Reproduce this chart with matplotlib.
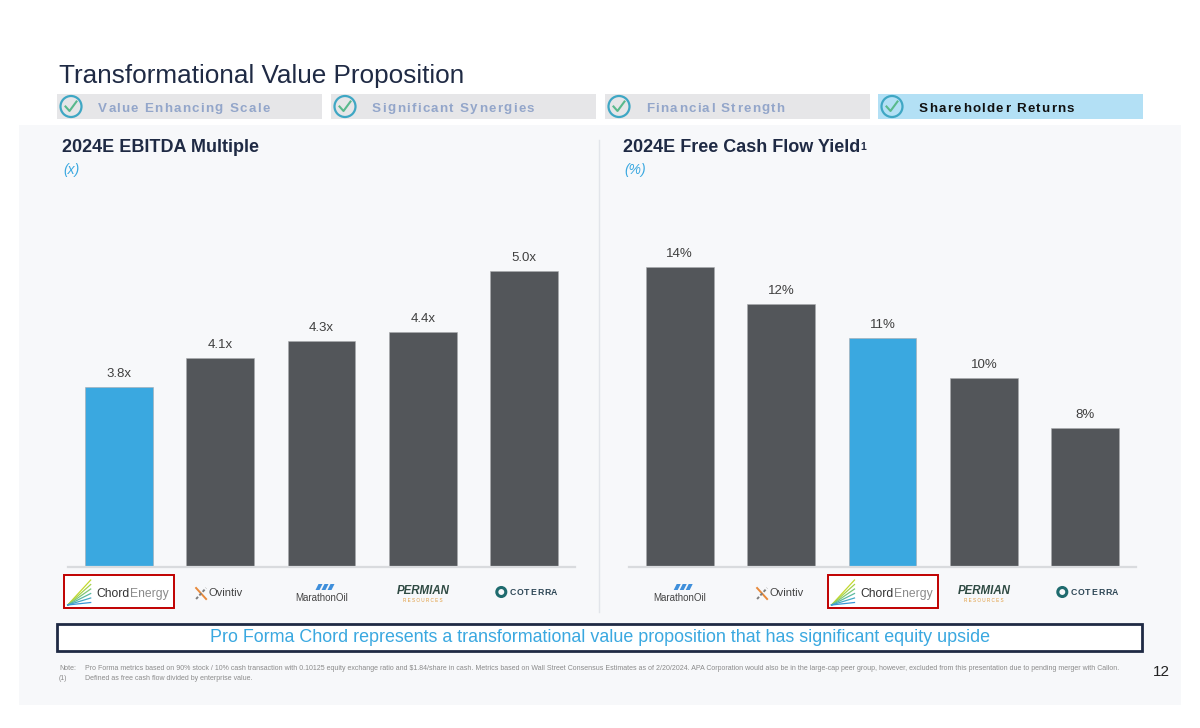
"""
Transformational value proposition slide: EBITDA multiple and FCF yield peers
"""
import matplotlib
matplotlib.use('Agg')
import matplotlib.pyplot as plt
from matplotlib.patches import Rectangle, Circle, Polygon
from matplotlib.lines import Line2D
from matplotlib.font_manager import FontProperties

plt.rcParams['font.family'] = ['Liberation Sans', 'DejaVu Sans']

# Data
ebitda_companies = ["Chord Energy", "Ovintiv", "Marathon Oil", "Permian Resources", "Coterra"]
ebitda_multiple = [3.80, 4.10, 4.27, 4.36, 4.98]
fcf_companies = ["Marathon Oil", "Ovintiv", "Chord Energy", "Permian Resources", "Coterra"]
fcf_yield = [13.6, 12.4, 11.3, 10.0, 8.4]
highlight = "Chord Energy"

tabs = ["Value Enhancing Scale", "Significant Synergies", "Financial Strength", "Shareholder Returns"]
active_tab = "Shareholder Returns"

NAVY = '#1F2A44'
BLUE = '#3AA8E0'
GREY_BAR = '#53565A'
PANEL = '#F7F8FA'

W, H = 1200, 728
fig = plt.figure(figsize=(W / 100, H / 100), dpi=100)
fig.patch.set_facecolor('white')
renderer = fig.canvas.get_renderer()

# Pixel-space canvas for the slide decorations
bg = fig.add_axes([0, 0, 1, 1], zorder=0)
bg.set_xlim(0, W)
bg.set_ylim(H, 0)
bg.axis('off')

bg.add_patch(Rectangle((19, 125), W - 38, 580, facecolor=PANEL, edgecolor='none', zorder=0.2))


def spaced_text(x, y, s, spacing, size, weight='normal', color='k'):
    # matplotlib has no letter-spacing, so lay the characters out one by one
    # y is the baseline
    fp = FontProperties(family=['Liberation Sans', 'DejaVu Sans'], size=size, weight=weight)
    w_i = renderer.get_text_width_height_descent('I', fp, ismath=False)[0]
    for i, ch in enumerate(s):
        if ch == ' ':
            continue
        # advance width of the prefix, measured with a guard char so spaces count
        w_pre = renderer.get_text_width_height_descent(s[:i] + 'I', fp, ismath=False)[0]
        bg.text(x + w_pre - w_i + i * spacing, y, ch, va='baseline', ha='left',
                fontproperties=fp, color=color)


# Title
bg.text(59, 76, "Transformational Value Proposition", fontsize=18.8, color=NAVY,
        va='center', ha='left')

# Tabs
tab_x = [57, 331, 605, 878]
for x0, label in zip(tab_x, tabs):
    active = label == active_tab
    bg.add_patch(Rectangle((x0, 94), 265, 25,
                           facecolor='#B3E0F5' if active else '#E6E6E8', edgecolor='none'))
    bg.add_patch(Circle((x0 + 14, 106.5), 10.5, facecolor='none', edgecolor='#3FA7C4', lw=1.6))
    bg.add_line(Line2D([x0 + 8.5, x0 + 12.5, x0 + 19.5], [106.5, 111, 101.5],
                       color='#59B98C', lw=1.5))
    spaced_text(x0 + 41, 111.5, label, 1.3, 9.6, weight='bold',
                color='#111111' if active else '#93A6CA')

# Divider between the two charts
bg.add_line(Line2D([599, 599], [140, 612], color='#E2E5EA', lw=1))


def add_bar_chart(x_left, x_right, companies, values, ylim, fmt, title, unit):
    base_px = 566.7
    top_px = 180
    ax = fig.add_axes([x_left / W, (H - base_px) / H, (x_right - x_left) / W,
                       (base_px - top_px) / H], zorder=2)
    ax.patch.set_alpha(0)
    x = list(range(len(companies)))
    colors = [BLUE if c == highlight else GREY_BAR for c in companies]
    bars = ax.bar(x, values, width=0.67, color=colors, edgecolor='#A9ABAE', linewidth=0.4)
    for b, v in zip(bars, values):
        ax.annotate(fmt.format(v), (b.get_x() + b.get_width() / 2, v),
                    xytext=(0, 5), textcoords='offset points', ha='center', va='bottom',
                    fontsize=9.5, color='#3F3F3F')
    ax.set_xlim(-0.5, len(companies) - 0.5)
    ax.set_ylim(*ylim)
    for side in ['top', 'right', 'left']:
        ax.spines[side].set_visible(False)
    ax.spines['bottom'].set_color('#D9DBDE')
    ax.spines['bottom'].set_linewidth(1.6)
    ax.set_xticks([])
    ax.set_yticks([])

    t = bg.text(x_left - 6, 148, title, fontsize=13, fontweight='bold', color=NAVY,
                va='center', ha='left')
    bg.text(x_left - 5, 170, unit, fontsize=10, style='italic', color=BLUE,
            va='center', ha='left')
    return ax, t


def draw_logo(name, cx, boxed):
    y = 593
    if boxed:
        bg.add_patch(Rectangle((cx - 55, 575), 110, 33, facecolor='white',
                               edgecolor='#C00000', lw=1.4, zorder=1.5))
    if name == "Chord Energy":
        fan = ['#C3D82E', '#A5D24A', '#7FC775', '#5BB9A0', '#45A9C6', '#3A97D6']
        for k, col in enumerate(fan):
            bg.add_line(Line2D([cx - 51, cx - 28], [605, 580 + k * 4.5], color=col, lw=0.9,
                               zorder=2))
        t = bg.text(cx - 22, y + 1, "Chord", fontsize=8.7, color='#333333',
                    va='center', ha='left')
        bb = t.get_window_extent(renderer)
        bg.text(bb.x1 + 0.5, y + 1, "Energy", fontsize=8.7, color='#8A8A8A',
                va='center', ha='left')
    elif name == "Ovintiv":
        bg.add_line(Line2D([cx - 24, cx - 14], [588, 599], color='#E8893A', lw=1.4))
        bg.add_line(Line2D([cx - 24, cx - 14], [599, 588], color='#7E7E7E', lw=1.4,
                           ls=(0, (1.5, 1))))
        bg.text(cx - 12, y, "Ovintiv", fontsize=8, color='#444444', va='center', ha='left')
    elif name == "Marathon Oil":
        for k in range(3):
            xs = cx - 6 + k * 6
            bg.add_patch(Polygon([[xs, 590], [xs + 3, 584], [xs + 7, 584], [xs + 4, 590]],
                                 closed=True, facecolor='#3F8FDB', edgecolor='none'))
        bg.text(cx, 598, "MarathonOil", fontsize=7, color='#444444', va='center', ha='center')
    elif name == "Permian Resources":
        bg.text(cx, 591, "PERMIAN", fontsize=8.3, fontweight='bold', style='italic',
                color='#2F4A43', va='center', ha='center')
        bg.text(cx, 601, "R E S O U R C E S", fontsize=3.3, color='#E09A3A',
                va='center', ha='center')
    elif name == "Coterra":
        bg.add_patch(Circle((cx - 23, 592), 4.5, facecolor='none', edgecolor='#1F6B6E', lw=2.2))
        spaced_text(cx - 15, 595.2, "COTERRA", 0.8, 6.3, weight='bold', color='#2E4756')


ax1, _ = add_bar_chart(68, 575, ebitda_companies, ebitda_multiple, (1.975, 5.91),
                       "{:.1f}x", "2024E EBITDA Multiple", "(x)")
ax2, fcf_title = add_bar_chart(629, 1136, fcf_companies, fcf_yield, (3.91, 16.4),
                               "{:.0f}%", "2024E Free Cash Flow Yield", "(%)")

# Footnote marker on right title
bb = fcf_title.get_window_extent(renderer)
bg.text(bb.x1 + 0.5, H - bb.y1 + 2, "1", fontsize=7.5, fontweight='bold', color=NAVY,
        va='top', ha='left')

# Company logos under each bar
for ax, companies in [(ax1, ebitda_companies), (ax2, fcf_companies)]:
    for i, name in enumerate(companies):
        cx = ax.transData.transform((i, ax.get_ylim()[0]))[0]
        draw_logo(name, cx, name == highlight)

# Bottom banner
bg.add_patch(Rectangle((57, 624), 1085, 27, facecolor='white', edgecolor=NAVY, lw=2))
bg.text(600, 638, "Pro Forma Chord represents a transformational value proposition that has "
        "significant equity upside", fontsize=12.9, color=BLUE, va='center', ha='center')

# Footnotes
note = ("Pro Forma metrics based on 90% stock / 10% cash transaction with 0.10125 equity exchange "
        "ratio and $1.84/share in cash. Metrics based on Wall Street Consensus Estimates as of "
        "2/20/2024. APA Corporation would also be in the large-cap peer group, however, excluded "
        "from this presentation due to pending merger with Callon.")
bg.text(59, 668, "Note:", fontsize=5, color='#8A8A8A', va='center', ha='left')
bg.text(85, 668, note, fontsize=5, color='#8A8A8A', va='center', ha='left')
bg.text(59, 679, "(1)", fontsize=5, color='#8A8A8A', va='center', ha='left')
bg.text(85, 679, "Defined as free cash flow divided by enterprise value.", fontsize=5,
        color='#8A8A8A', va='center', ha='left')
bg.text(1161, 672, "12", fontsize=11, color='#222222', va='center', ha='center')

fig.savefig("out.png", dpi=100, facecolor='white')
